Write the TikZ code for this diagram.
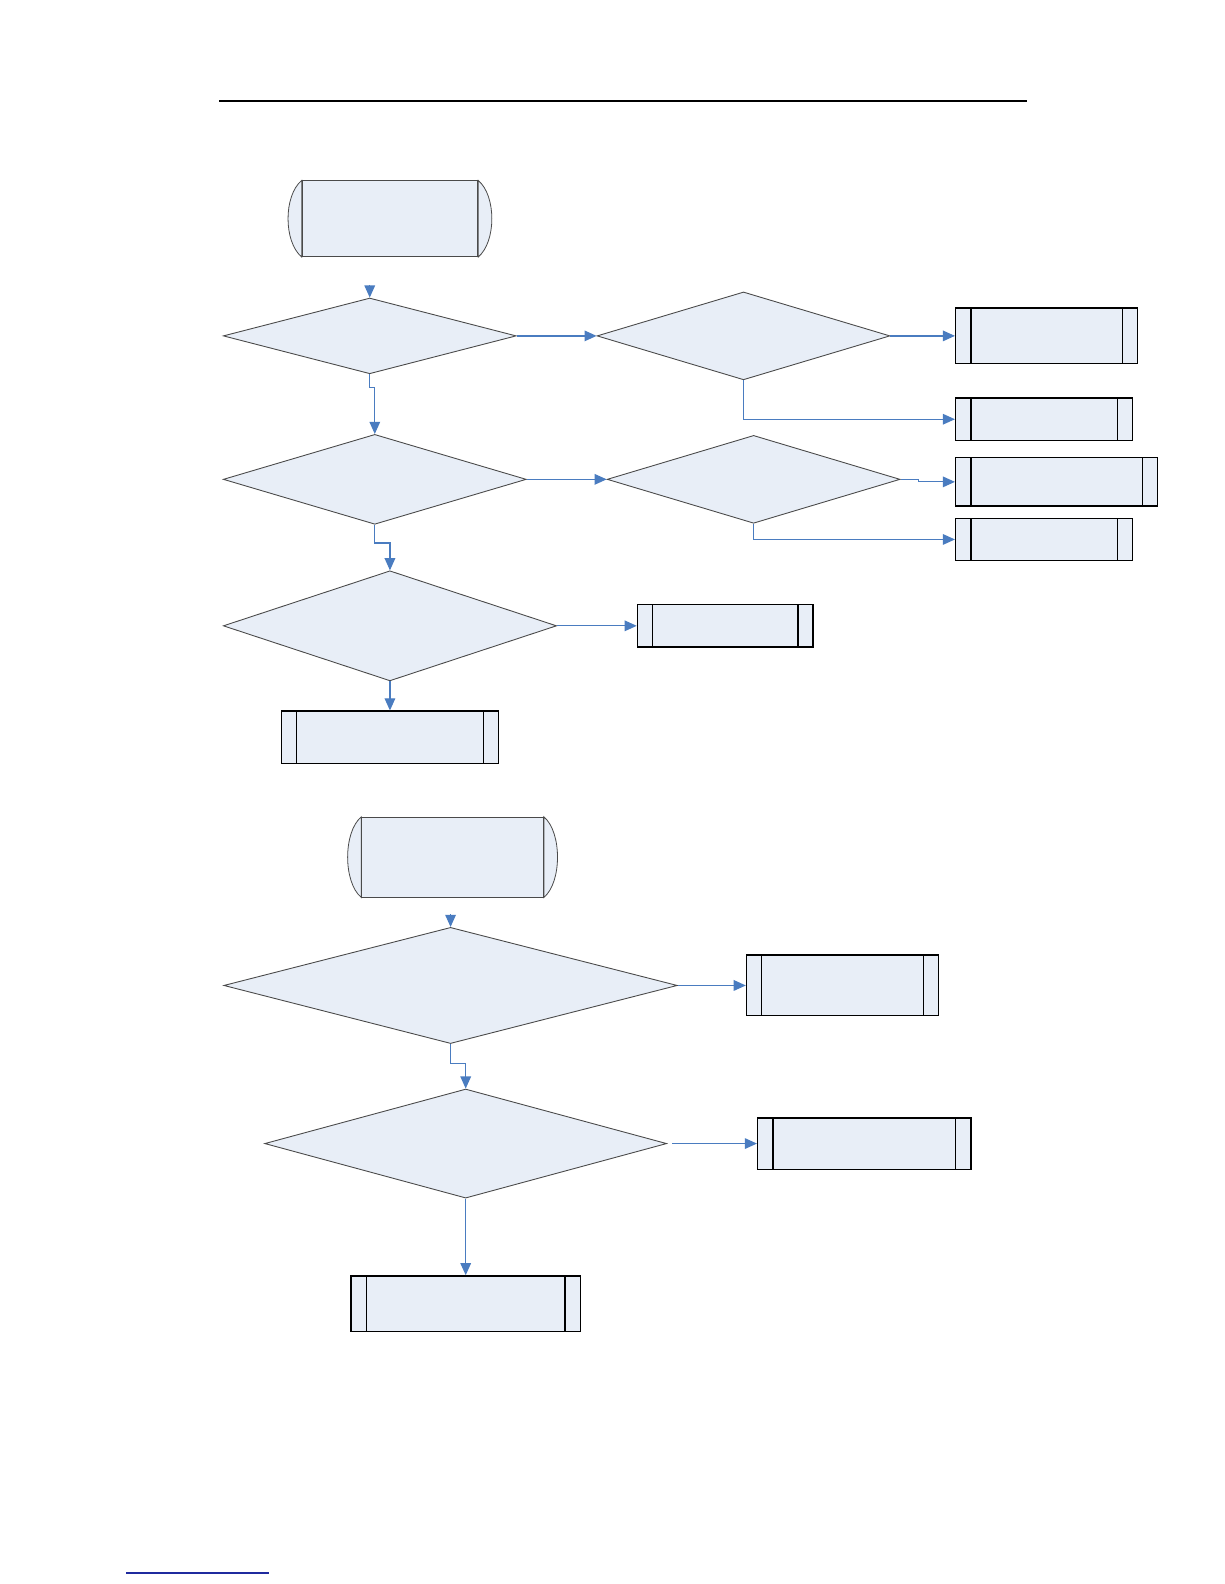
\documentclass[tikz,border=0pt]{standalone}
\definecolor{fcfill}{HTML}{E8EEF7}
\definecolor{fcline}{HTML}{4A4A4A}
\definecolor{fcblue}{HTML}{4A7CC0}
\definecolor{fcnavy}{HTML}{1F2A9E}
\usepackage{tikz}
\usetikzlibrary{arrows.meta, positioning, shapes.geometric, calc, backgrounds}

\begin{document}
\begin{tikzpicture}[x=0.02cm, y=-0.02cm,
  decision/.style={diamond, draw=fcline, fill=fcfill, line width=0.5pt, inner sep=0pt},
  subproc/.style={rectangle, draw=black, fill=fcfill, line width=0.8pt, inner sep=0pt,
                  path picture={
                    \draw[line width=0.8pt] ([xshift=0.3cm]path picture bounding box.north west) -- ([xshift=0.3cm]path picture bounding box.south west);
                    \draw[line width=0.8pt] ([xshift=-0.3cm]path picture bounding box.north east) -- ([xshift=-0.3cm]path picture bounding box.south east);}},
  terminal/.style={rectangle, draw=fcline, fill=fcfill, line width=0.45pt, inner sep=0pt},
  termend/.style={draw=fcline, fill=fcfill, line width=0.45pt},
  flow/.style={-{Triangle[length=2.4mm, width=2.1mm]}, draw=fcblue, line width=0.7pt}
]
  \useasboundingbox (0,0) rectangle (1212,1568);

  % page rules
  \draw[line width=1.2pt, black] (217,100) -- (1017,100);
  \draw[line width=0.8pt, fcnavy] (125,1557) -- (266,1557);

  % first chart
  \node[terminal, minimum width=3.48cm, minimum height=1.5cm] (start1) at (386,216.5) {};
  \coordinate (in1) at (366,282);
  \node[decision, minimum width=5.8cm, minimum height=1.5cm] (d1) at (366,332.5) {};
  \node[decision, minimum width=5.8cm, minimum height=1.74cm] (d2) at (736,332.5) {};
  \node[subproc, minimum width=3.6cm, minimum height=1.1cm] (boxa) at (1036,332.5) {};
  \node[subproc, minimum width=3.5cm, minimum height=0.84cm] (boxb) at (1033.5,415) {};
  \node[decision, minimum width=6cm, minimum height=1.78cm] (d3) at (371,474.5) {};
  \node[decision, minimum width=5.8cm, minimum height=1.74cm] (d4) at (746,474.5) {};
  \node[subproc, minimum width=4cm, minimum height=0.96cm] (boxc) at (1046,477) {};
  \node[subproc, minimum width=3.5cm, minimum height=0.84cm] (boxd) at (1033.5,534) {};
  \node[decision, minimum width=6.6cm, minimum height=2.18cm] (d5) at (386,619.5) {};
  \node[subproc, minimum width=3.48cm, minimum height=0.84cm] (boxe) at (718,619.5) {};
  \node[subproc, minimum width=4.3cm, minimum height=1.04cm] (boxf) at (386,730) {};

  % second chart
  \node[terminal, minimum width=3.6cm, minimum height=1.58cm] (start2) at (448,848.5) {};
  \coordinate (in2) at (446,905);
  \node[decision, minimum width=8.98cm, minimum height=2.3cm] (d6) at (446,975.5) {};
  \node[subproc, minimum width=3.8cm, minimum height=1.2cm] (boxg) at (834,975.5) {};
  \node[decision, minimum width=7.96cm, minimum height=2.16cm] (d7) at (461,1132) {};
  \node[subproc, minimum width=4.22cm, minimum height=1.02cm] (boxh) at (855.5,1132) {};
  \node[subproc, minimum width=4.54cm, minimum height=1.1cm] (boxi) at (461,1290.5) {};

  % rounded ends of the terminals
  \begin{scope}[on background layer]
  \foreach \t in {start1, start2} {
    \filldraw[termend] (\t.north west) .. controls ([xshift=-0.36cm, yshift=-0.3cm]\t.north west)
      and ([xshift=-0.36cm, yshift=0.3cm]\t.south west) .. (\t.south west) -- cycle;
    \filldraw[termend] (\t.north east) .. controls ([xshift=0.36cm, yshift=-0.3cm]\t.north east)
      and ([xshift=0.36cm, yshift=0.3cm]\t.south east) .. (\t.south east) -- cycle;
  }
  \end{scope}

  % connectors
  \draw[flow] (in1) -- (d1.north);
  \draw[flow] (d1.east) -- (d2.west);
  \draw[flow] (d2.east) -- (boxa.west);
  \draw[flow] (d2.south) |- (boxb.west);
  \draw[flow] (d1.south) -- ++(0,13) -| (d3.north);
  \draw[flow] (d3.east) -- (d4.west);
  \draw[flow] (d4.east) -- ++(18,0) |- (boxc.west);
  \draw[flow] (d4.south) |- (boxd.west);
  \draw[flow] (d3.south) -- ++(0,18) -| (d5.north);
  \draw[flow] (d5.east) -- (boxe.west);
  \draw[flow] (d5.south) -- (boxf.north);

  \draw[flow] (in2) -- (d6.north);
  \draw[flow] (d6.east) -- (boxg.west);
  \draw[flow] (d6.south) -- ++(0,19) -| (d7.north);
  \draw[flow, shorten <=0.1cm] (d7.east) -- (boxh.west);
  \draw[flow] (d7.south) -- (boxi.north);
\end{tikzpicture}
\end{document}
